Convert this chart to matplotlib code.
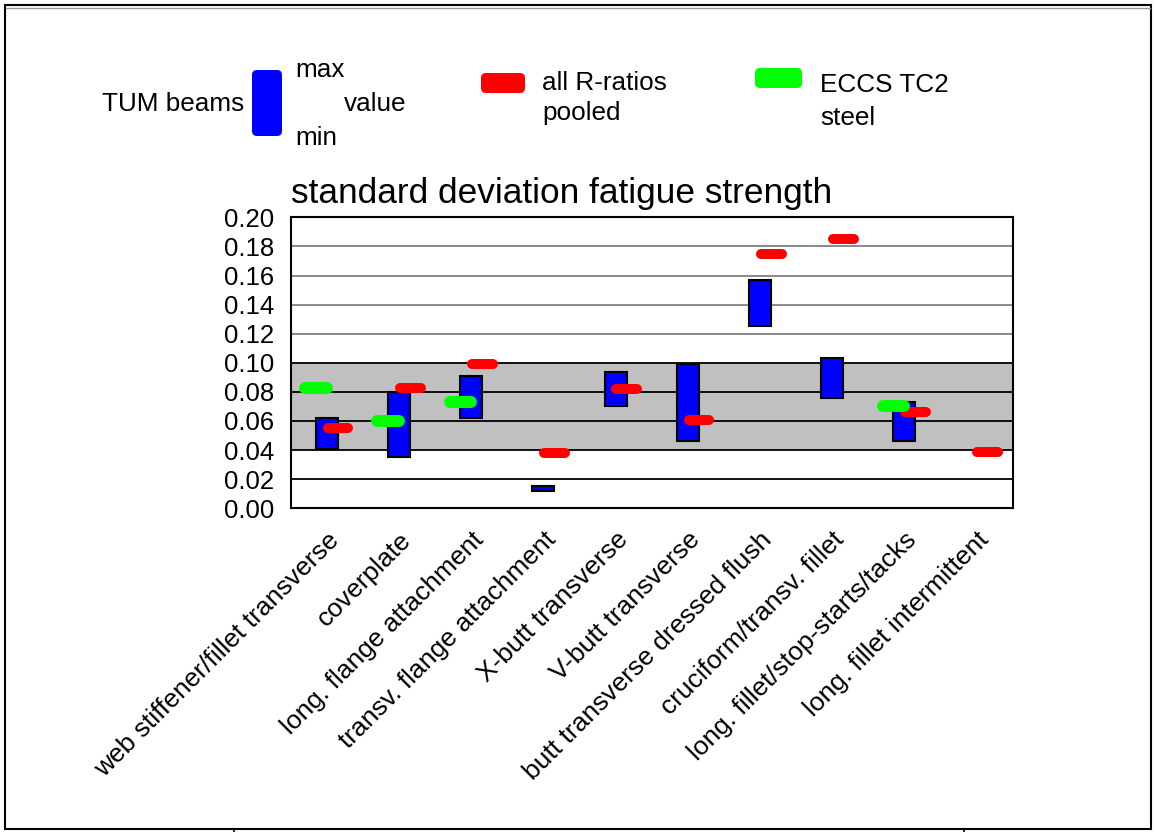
import numpy as np
import matplotlib.pyplot as plt
from matplotlib.patches import FancyBboxPatch, Rectangle
from matplotlib.transforms import ScaledTranslation

plt.rcParams['font.family'] = ['Liberation Sans', 'DejaVu Sans']

# data
categories = [
    "web stiffener/fillet transverse",
    "coverplate",
    "long. flange attachment",
    "transv. flange attachment",
    "X-butt transverse",
    "V-butt transverse",
    "butt transverse dressed flush",
    "cruciform/transv. fillet",
    "long. fillet/stop-starts/tacks",
    "long. fillet intermittent",
]
tum_min = [0.041, 0.035, 0.062, 0.012, 0.070, 0.046, 0.125, 0.076, 0.046, np.nan]
tum_max = [0.062, 0.080, 0.091, 0.015, 0.094, 0.099, 0.157, 0.103, 0.073, np.nan]
pooled = [0.055, 0.083, 0.099, 0.038, 0.082, 0.061, 0.175, 0.185, 0.066, 0.039]
eccs = [0.083, 0.060, 0.073, np.nan, np.nan, np.nan, np.nan, np.nan, 0.070, np.nan]
yticks = [0.00, 0.02, 0.04, 0.06, 0.08, 0.10, 0.12, 0.14, 0.16, 0.18, 0.20]
band = (0.04, 0.10)

W, H = 1156, 832
fig = plt.figure(figsize=(W / 100, H / 100), dpi=100)

# background layer in pixel units, for frame and legend
bg = fig.add_axes([0, 0, 1, 1], zorder=0)
bg.set_xlim(0, W)
bg.set_ylim(H, 0)
bg.axis('off')
bg.add_patch(Rectangle((5, 5), W - 10, H - 8, fill=False, ec='black', lw=1.5))
bg.plot([6, W - 6], [8, 8], color='#999999', lw=1)
for xx in (234, 964):
    bg.plot([xx, xx], [829, 832], color='black', lw=1.2)

fs_leg = 18.8
bg.add_patch(FancyBboxPatch((252, 70), 30, 66, boxstyle="round,pad=0,rounding_size=5",
                            fc='#0000ff', ec='none'))
bg.text(244, 111, "TUM beams", ha='right', va='baseline', fontsize=fs_leg)
bg.text(295, 77, "max", ha='left', va='baseline', fontsize=fs_leg)
bg.text(344, 111, "value", ha='left', va='baseline', fontsize=fs_leg)
bg.text(295, 145, "min", ha='left', va='baseline', fontsize=fs_leg)

bg.add_patch(FancyBboxPatch((481, 73), 44, 20, boxstyle="round,pad=0,rounding_size=5",
                            fc='#ff0000', ec='none'))
bg.text(542, 90, "all R-ratios", ha='left', va='baseline', fontsize=fs_leg)
bg.text(542, 120, "pooled", ha='left', va='baseline', fontsize=fs_leg)

bg.add_patch(FancyBboxPatch((755, 68), 47, 20, boxstyle="round,pad=0,rounding_size=5",
                            fc='#00ff00', ec='none'))
bg.text(820, 92, "ECCS TC2", ha='left', va='baseline', fontsize=fs_leg)
bg.text(820, 125, "steel", ha='left', va='baseline', fontsize=fs_leg)

# main chart
ax = fig.add_axes([290.7 / W, 1 - 508.3 / H, 722 / W, 291 / H], zorder=1)
x = np.arange(len(categories))

ax.axhspan(band[0], band[1], color='#c0c0c0', zorder=0, lw=0)
for t in yticks[1:-1]:
    c = 'black' if t <= band[1] + 1e-9 else '#808080'
    ax.axhline(t, color=c, lw=1.3, zorder=1)

lo = np.array(tum_min)
hi = np.array(tum_max)
m = ~np.isnan(lo)
ax.bar(x[m], hi[m] - lo[m], bottom=lo[m], width=0.305, color='#0000ff',
       edgecolor='black', lw=1.5, zorder=2)

for xi, v in zip(x, pooled):
    if not np.isnan(v):
        ax.plot([xi + 0.01, xi + 0.30], [v, v], color='#ff0000', lw=7.2,
                solid_capstyle='round', zorder=3)
for xi, v in zip(x, eccs):
    if not np.isnan(v):
        ax.plot([xi - 0.30, xi - 0.0], [v, v], color='#00ff00', lw=8.6,
                solid_capstyle='round', zorder=4)

ax.set_xlim(-0.5, len(categories) - 0.5)
ax.set_ylim(0, 0.2)
ax.set_yticks(yticks)
ax.set_yticklabels([f"{t:.2f}" for t in yticks], fontsize=18.5)
ax.set_xticks(x)
ax.set_xticklabels(categories, rotation=45, ha='right', rotation_mode='anchor', fontsize=19)
off = ScaledTranslation(6 / 100, 0, fig.dpi_scale_trans)
for lab in ax.get_xticklabels():
    lab.set_transform(lab.get_transform() + off)
ax.tick_params(axis='both', length=0)
ax.tick_params(axis='y', pad=12)
ax.tick_params(axis='x', pad=14)
for s in ax.spines.values():
    s.set_linewidth(1.5)
ax.set_title("standard deviation fatigue strength", loc='left', fontsize=25.4, pad=10)

fig.savefig("out.png", dpi=100)
